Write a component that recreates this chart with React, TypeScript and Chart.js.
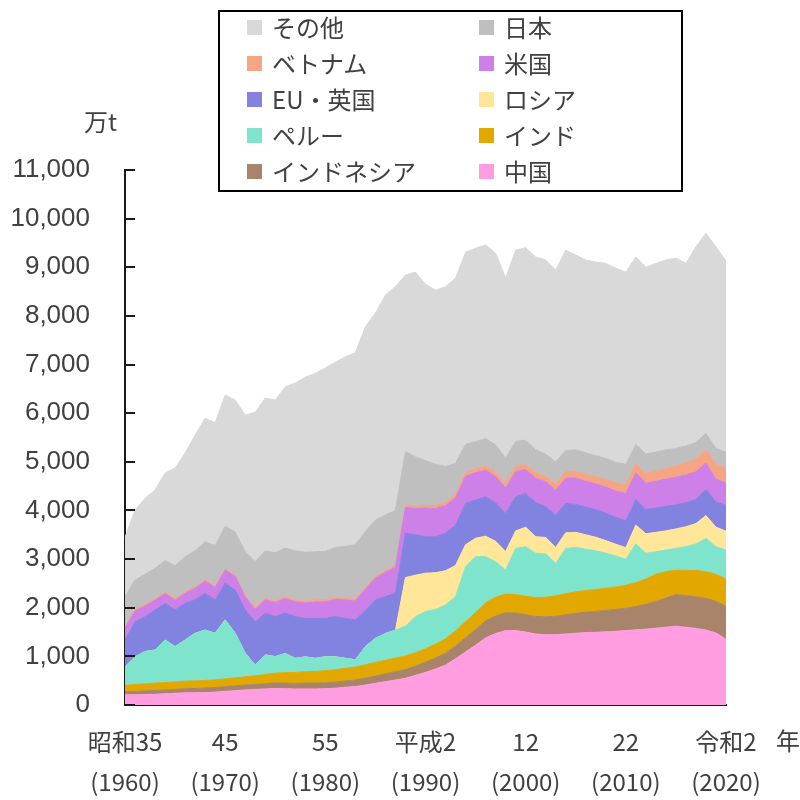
import React, { useEffect, useRef } from 'react';
import { Chart, registerables } from 'chart.js';

Chart.register(...registerables);

// ---- data (万t) ----
const years = [
  1960, 1961, 1962, 1963, 1964, 1965, 1966, 1967, 1968, 1969,
  1970, 1971, 1972, 1973, 1974, 1975, 1976, 1977, 1978, 1979,
  1980, 1981, 1982, 1983, 1984, 1985, 1986, 1987, 1988, 1989,
  1990, 1991, 1992, 1993, 1994, 1995, 1996, 1997, 1998, 1999,
  2000, 2001, 2002, 2003, 2004, 2005, 2006, 2007, 2008, 2009,
  2010, 2011, 2012, 2013, 2014, 2015, 2016, 2017, 2018, 2019, 2020,
];

const china = [
  210, 210, 215, 220, 230, 240, 250, 250, 255, 265,
  280, 295, 310, 320, 330, 340, 335, 330, 330, 330,
  335, 345, 365, 380, 410, 445, 480, 515, 550, 610,
  670, 740, 820, 950, 1090, 1230, 1380, 1470, 1530, 1530,
  1500, 1460, 1445, 1445, 1460, 1475, 1490, 1495, 1505, 1515,
  1530, 1545, 1560, 1580, 1600, 1620, 1600, 1575, 1540, 1480, 1350,
];
const indonesia = [
  65, 70, 75, 80, 80, 80, 85, 90, 95, 95,
  95, 100, 100, 105, 110, 115, 115, 115, 120, 120,
  120, 125, 130, 135, 140, 150, 160, 170, 180, 190,
  210, 225, 245, 265, 290, 320, 350, 360, 365, 360,
  355, 360, 370, 380, 395, 410, 420, 430, 440, 450,
  460, 480, 510, 550, 600, 650, 650, 650, 650, 650, 680,
];
const india = [
  130, 140, 145, 150, 150, 155, 155, 155, 155, 160,
  160, 165, 170, 175, 185, 200, 215, 225, 235, 240,
  250, 255, 260, 265, 275, 280, 280, 280, 280, 275,
  275, 285, 295, 310, 330, 350, 370, 385, 385, 380,
  380, 390, 400, 420, 435, 440, 445, 450, 455, 460,
  470, 490, 520, 560, 540, 500, 520, 540, 550, 555, 560,
];
const peru = [
  380, 570, 665, 680, 875, 725, 845, 980, 1035, 955,
  1215, 915, 485, 220, 405, 340, 395, 290, 305, 270,
  285, 265, 205, 150, 375, 495, 550, 575, 610, 745,
  765, 715, 695, 705, 1135, 1150, 950, 730, 495, 950,
  1020, 910, 890, 665, 930, 915, 850, 795, 720, 640,
  535, 795, 530, 460, 445, 450, 485, 545, 685, 570, 595,
];
const russia = [
  0, 0, 0, 0, 0, 0, 0, 0, 0, 0,
  0, 0, 0, 0, 0, 0, 0, 0, 0, 0,
  0, 0, 0, 0, 0, 0, 0, 0, 1000, 850,
  790, 755, 705, 640, 450, 380, 420, 420, 380, 360,
  400, 340, 340, 330, 320, 310, 295, 280, 260, 240,
  240, 390, 400, 400, 395, 400, 410, 420, 470, 400, 390,
];
const euUk = [
  550, 720, 715, 825, 755, 755, 755, 685, 755, 685,
  755, 890, 890, 890, 855, 825, 830, 860, 790, 820,
  790, 830, 820, 820, 750, 790, 760, 760, 910, 830,
  750, 740, 770, 830, 850, 785, 810, 795, 785, 700,
  695, 700, 635, 665, 605, 575, 570, 565, 560, 555,
  550, 520, 500, 500, 505, 495, 490, 495, 540, 520, 530,
];
const usa = [
  245, 230, 220, 200, 200, 200, 210, 240, 250, 260,
  270, 280, 270, 260, 280, 290, 300, 300, 320, 340,
  340, 350, 380, 390, 430, 450, 500, 530, 530, 540,
  590, 580, 570, 560, 560, 560, 550, 540, 520, 520,
  490, 500, 510, 510, 520, 540, 530, 530, 540, 540,
  560, 560, 540, 550, 560, 570, 575, 570, 540, 470, 460,
];
const vietnam = [
  30, 30, 30, 30, 30, 30, 30, 30, 30, 30,
  30, 30, 30, 30, 30, 30, 40, 40, 40, 40,
  40, 40, 40, 40, 40, 40, 40, 40, 50, 50,
  55, 60, 65, 70, 75, 80, 85, 90, 95, 100,
  105, 110, 115, 125, 135, 140, 145, 150, 160, 170,
  180, 190, 200, 210, 220, 230, 245, 260, 280, 300, 310,
];
const japan = [
  620, 600, 620, 630, 650, 680, 720, 740, 780, 830,
  870, 880, 900, 950, 970, 990, 1000, 1010, 1000, 990,
  1000, 1030, 1060, 1120, 1150, 1150, 1140, 1130, 1100, 1010,
  920, 850, 740, 640, 580, 560, 560, 560, 520, 520,
  500, 480, 450, 460, 430, 440, 440, 430, 430, 420,
  420, 390, 400, 390, 380, 360, 350, 340, 330, 330, 320,
];
const others = [
  1219, 1437, 1564, 1607, 1799, 2007, 2129, 2381, 2543, 2521,
  2698, 2716, 2807, 3067, 3146, 3140, 3310, 3450, 3600, 3670,
  3770, 3810, 3900, 3940, 4210, 4260, 4520, 4600, 3630, 3800,
  3625, 3580, 3695, 3810, 3950, 3975, 3985, 3940, 3705, 3930,
  3955, 3960, 3995, 3940, 4120, 4005, 3965, 3985, 4010, 3990,
  3955, 3850, 3840, 3880, 3905, 3915, 3755, 4025, 4115, 4145, 3935,
];

// stacking order: bottom -> top
const seriesNames = ['中国', 'インドネシア', 'インド', 'ペルー', 'ロシア', 'EU・英国', '米国', 'ベトナム', '日本', 'その他'];
const seriesValues = [china, indonesia, india, peru, russia, euUk, usa, vietnam, japan, others];
const seriesColors = ['#ff9de0', '#a8856a', '#e3a800', '#7ee5cc', '#ffe699', '#8282e0', '#cc80e8', '#f5a583', '#bfbfbf', '#d9d9d9'];

// legend rows (left, right)
const legendRows = [
  ['その他', '日本'],
  ['ベトナム', '米国'],
  ['EU・英国', 'ロシア'],
  ['ペルー', 'インド'],
  ['インドネシア', '中国'],
];

// x tick labels
const xTickYears = [1960, 1970, 1980, 1990, 2000, 2010, 2020];
const xTickEra = ['昭和35', '45', '55', '平成2', '12', '22', '令和2'];
const xTickWestern = ['(1960)', '(1970)', '(1980)', '(1990)', '(2000)', '(2010)', '(2020)'];

const yMin = 0;
const yMax = 11000;
const yStep = 1000;
const yUnit = '万t';
const xUnit = '年';

const TEXT = '#404040';
const AXIS = '#1a1a1a';
const CJK = '"Noto Sans CJK JP", "Liberation Sans", sans-serif';

const innerTicks = {
  id: 'innerTicks',
  afterDraw(chart: any) {
    const ys = chart.scales.y;
    const ctx = chart.ctx;
    ctx.save();
    ctx.strokeStyle = AXIS;
    ctx.lineWidth = 2;
    ys.ticks.forEach((t: any) => {
      const py = Math.round(ys.getPixelForValue(t.value));
      ctx.beginPath();
      ctx.moveTo(ys.right, py);
      ctx.lineTo(ys.right + 10, py);
      ctx.stroke();
    });
    ctx.restore();
  },
};

function colorOf(name: string) {
  return seriesColors[seriesNames.indexOf(name)];
}

export default function App() {
  const ref = useRef<HTMLCanvasElement | null>(null);

  useEffect(() => {
    if (!ref.current) return;
    const chart = new Chart(ref.current, {
      type: 'line',
      data: {
        labels: years.map(String),
        datasets: seriesNames.map((name, i) => ({
          label: name,
          data: seriesValues[i],
          backgroundColor: seriesColors[i],
          borderColor: seriesColors[i],
          borderWidth: 1,
          pointRadius: 0,
          tension: 0,
          fill: i === 0 ? 'origin' : '-1',
        })),
      },
      options: {
        animation: false,
        responsive: false,
        maintainAspectRatio: false,
        layout: { padding: { top: 170, right: 74, bottom: 0, left: 0 } },
        plugins: { legend: { display: false }, tooltip: { enabled: false } },
        scales: {
          x: {
            type: 'category',
            offset: false,
            grid: { display: false, drawTicks: false },
            border: { display: true, color: AXIS, width: 2 },
            ticks: {
              autoSkip: false,
              maxRotation: 0,
              minRotation: 0,
              padding: 17,
              color: TEXT,
              font: { family: CJK, size: 24, lineHeight: 40 / 24 },
              callback: (_v: any, i: number) => {
                const k = xTickYears.indexOf(years[i]);
                return k >= 0 ? [xTickEra[k], xTickWestern[k]] : '';
              },
            },
            afterFit: (s: any) => { s.height = 95; },
          },
          y: {
            stacked: true,
            min: yMin,
            max: yMax,
            grid: { display: false, drawTicks: false },
            border: { display: true, color: AXIS, width: 2 },
            ticks: {
              stepSize: yStep,
              padding: 35,
              color: TEXT,
              font: { family: '"Liberation Sans", sans-serif', size: 26 },
              callback: (v: any) => Number(v).toLocaleString('en-US'),
            },
            afterFit: (s: any) => { s.width = 125; },
          },
        },
      },
      plugins: [innerTicks],
    });
    return () => chart.destroy();
  }, []);

  const legendItem = (name: string, left: number, top: number) => (
    <div key={name} style={{ position: 'absolute', left, top: top - 18, height: 36, display: 'flex', alignItems: 'center' }}>
      <span style={{ display: 'inline-block', width: 15, height: 15, background: colorOf(name), marginRight: 10 }} />
      <span style={{ fontFamily: CJK, fontSize: 24, color: TEXT, lineHeight: '36px', whiteSpace: 'nowrap' }}>{name}</span>
    </div>
  );

  const rowCenters = [27, 63, 99, 135, 171];

  return (
    <div style={{ position: 'absolute', left: 0, top: 0, width: 800, height: 800, background: '#fff', overflow: 'hidden' }}>
      <canvas ref={ref} width={800} height={800} style={{ display: 'block', width: 800, height: 800 }} />
      <div style={{ position: 'absolute', left: 218, top: 10, width: 461, height: 178, border: '2px solid #000', background: '#fff' }} />
      {legendRows.map((row, r) => (
        <React.Fragment key={r}>
          {legendItem(row[0], 247, rowCenters[r])}
          {legendItem(row[1], 479, rowCenters[r])}
        </React.Fragment>
      ))}
      <div style={{ position: 'absolute', left: 84, top: 104, fontFamily: CJK, fontSize: 24, color: TEXT, lineHeight: '34px' }}>{yUnit}</div>
      <div style={{ position: 'absolute', left: 776, top: 723, fontFamily: CJK, fontSize: 24, color: TEXT, lineHeight: '34px' }}>{xUnit}</div>
    </div>
  );
}
